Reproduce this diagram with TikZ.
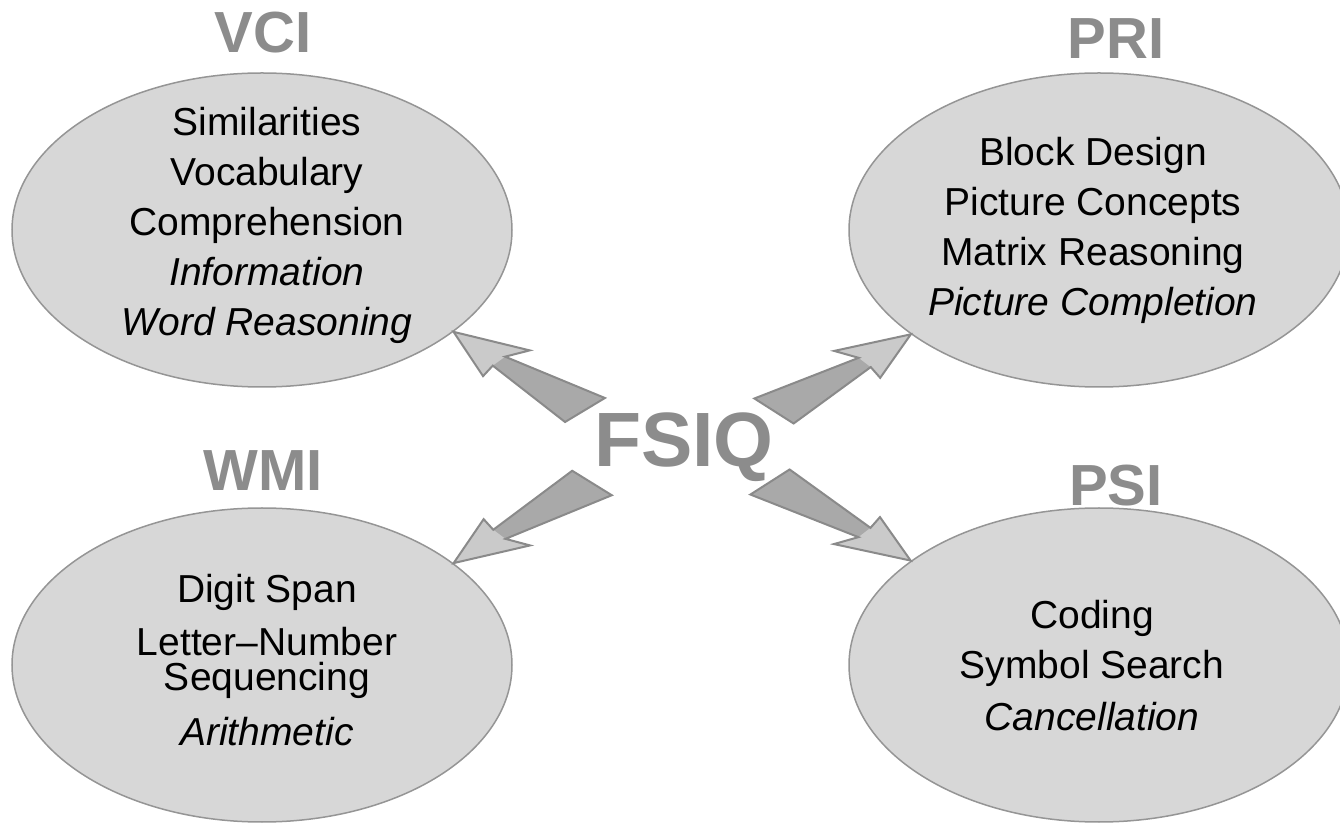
\documentclass[tikz,border=0pt]{standalone}
\usepackage{fontspec}
\setmainfont{Liberation Sans}
\usetikzlibrary{shapes.geometric,calc}
\definecolor{ellfill}{HTML}{D7D7D7}
\definecolor{ellline}{HTML}{959595}
\definecolor{headgray}{HTML}{8C8C8C}
\definecolor{arrline}{HTML}{8A8A8A}
\definecolor{arrhead}{HTML}{CACACA}
\definecolor{arrbody}{HTML}{A9A9A9}
\tikzset{
  ell/.style={ellipse, draw=ellline, fill=ellfill, line width=0.75pt,
    minimum width=250pt, minimum height=157pt, inner sep=0pt},
  txt/.style={font=\fontsize{19.5}{25}\selectfont, align=center, inner sep=0pt, text=black},
  head/.style={font=\fontsize{29}{34}\selectfont\bfseries, text=headgray, inner sep=0pt},
  bignode/.style={font=\fontsize{38.5}{44}\selectfont\bfseries, text=headgray, inner sep=0pt},
  fatbody/.style={fill=arrbody, draw=none},
  fathead/.style={fill=arrhead, draw=none},
  fatline/.style={draw=arrline, line width=1pt, line join=miter},
}
% #1 tail coordinate, #2 tip, #3 side (+1 or -1)
\newcommand\fatarrow[3]{%
  \path let \p1=($(#2)-(#1)$), \n1={atan2(\y1,\x1)}, \n2={veclen(\x1,\y1)} in
    \pgfextra{\xdef\fatang{\n1}\xdef\fatlen{\n2}};
  \pgfmathsetmacro\fatA{\fatang}%
  \pgfmathsetmacro\fatL{2*\fatlen}%
  \begin{scope}[x=0.5pt,y=0.5pt,shift={(#1)},rotate=\fatA,yscale=#3]
    \path[fatbody] (\fatL,0) -- ({\fatL-75},-23) -- ({\fatL-57},-5) -- (-11,-20.5)
      -- (11,20.5) -- ({\fatL-51},9) -- ({\fatL-48},23) -- cycle;
    \path[fathead] (\fatL,0) -- ({\fatL-75},-23) -- ({\fatL-57},-5)
      -- ({\fatL-51},9) -- ({\fatL-48},23) -- cycle;
    \path[fatline] (\fatL,0) -- ({\fatL-75},-23) -- ({\fatL-57},-5) -- (-11,-20.5)
      -- (11,20.5) -- ({\fatL-51},9) -- ({\fatL-48},23) -- cycle;
  \end{scope}}
\begin{document}
\begin{tikzpicture}[x=0.5pt,y=-0.5pt]
\useasboundingbox (0,0) rectangle (1340,823);
\clip (0,0) rectangle (1340,823);

% ellipses
\node[ell] (vci) at (262,230) {};
\node[ell] (pri) at (1099,230) {};
\node[ell] (wmi) at (262,665) {};
\node[ell] (psi) at (1099,665) {};

% centre label
\node[bignode, anchor=base] (fsiq) at (684,467) {FSIQ};

% arrow tails
\coordinate (t1) at (585,410);
\coordinate (t2) at (774,411);
\coordinate (t3) at (592,483);
\coordinate (t4) at (770,482);

\fatarrow{t1}{vci.-28}{1}
\fatarrow{t2}{pri.-151}{-1}
\fatarrow{t3}{wmi.28}{-1}
\fatarrow{t4}{psi.151}{1}

% headings
\node[head, anchor=base] (vcih) at (263,53) {VCI};
\node[head, anchor=base] (prih) at (1116,59) {PRI};
\node[head, anchor=base] (wmih) at (263,491) {WMI};
\node[head, anchor=base] (psih) at (1116,506) {PSI};

% subtest lists
\node[txt, anchor=north] (vcit) at (267,107)
  {Similarities\\Vocabulary\\Comprehension\\\textit{Information}\\\textit{Word Reasoning}};
\node[txt, anchor=north] (prit) at (1093,137)
  {Block Design\\Picture Concepts\\Matrix Reasoning\\\textit{Picture Completion}};
\node[txt, anchor=north] (wmit) at (267,574)
  {Digit Span\\[1.5pt]Letter–Number\\[-7.5pt]Sequencing\\[2.5pt]\textit{Arithmetic}};
\node[txt, anchor=north] (psit) at (1092,600)
  {Coding\\Symbol Search\\[1pt]\textit{Cancellation}};
\end{tikzpicture}
\end{document}
